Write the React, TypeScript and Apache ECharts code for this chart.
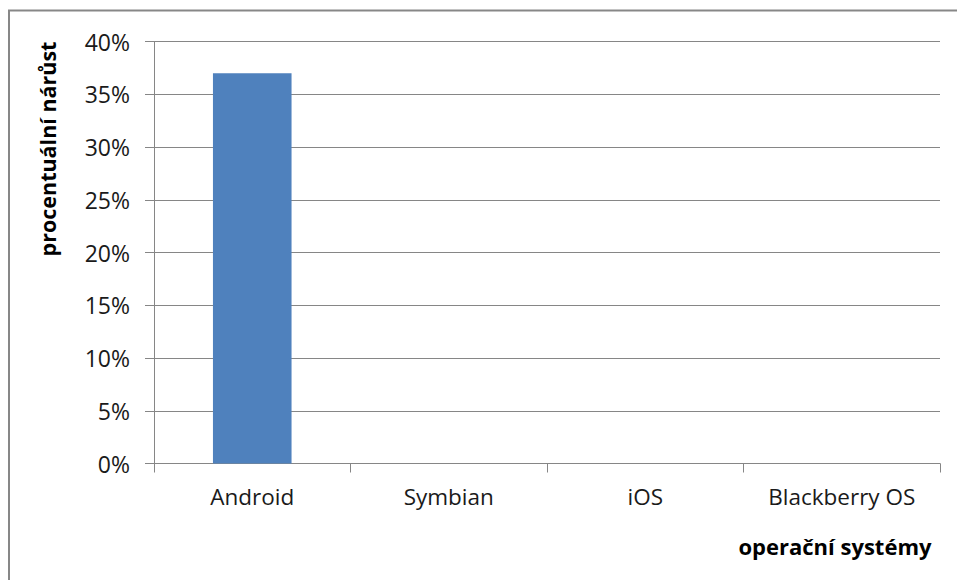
import React, { useEffect, useRef } from "react";
import * as echarts from "echarts";

const categories = ["Android", "Symbian", "iOS", "Blackberry OS"];
const growthValues = [37, 0, 0, 0];
const yTicks = { min: 0, max: 40, interval: 5 };
const yAxisTitle = "procentuální nárůst";
const xAxisTitle = "operační systémy";

const FONT = "'Open Sans', sans-serif";

export default function App() {
  const ref = useRef<HTMLDivElement>(null);

  useEffect(() => {
    if (!ref.current) return;
    const chart = echarts.init(ref.current, undefined, { renderer: "svg" });
    chart.setOption({
      animation: false,
      backgroundColor: "#ffffff",
      grid: { left: 154, right: 17, top: 41.5, bottom: 116.5, containLabel: false },
      xAxis: {
        type: "category",
        data: categories,
        axisLine: { show: true, lineStyle: { color: "#868686", width: 1 } },
        axisTick: { show: true, length: 9, lineStyle: { color: "#868686" } },
        axisLabel: { color: "#1a1a1a", fontFamily: FONT, fontSize: 22.5, margin: 21 },
      },
      yAxis: {
        type: "value",
        min: yTicks.min,
        max: yTicks.max,
        interval: yTicks.interval,
        axisLine: { show: true, lineStyle: { color: "#868686", width: 1 } },
        axisTick: { show: true, length: 9, lineStyle: { color: "#868686" } },
        splitLine: { show: true, lineStyle: { color: "#868686", width: 1 } },
        axisLabel: {
          color: "#1a1a1a",
          fontFamily: FONT,
          fontSize: 23,
          margin: 24,
          formatter: "{value}%",
        },
      },
      series: [
        {
          type: "bar",
          data: growthValues,
          barCategoryGap: "60%",
          itemStyle: { color: "#4F81BD" },
        },
      ],
      graphic: [
        {
          type: "rect",
          shape: { x: 9, y: 10.5, width: 2000, height: 2000 },
          style: { fill: "none", stroke: "#878787", lineWidth: 2 },
          silent: true,
        },
        {
          type: "text",
          x: 47,
          y: 149,
          rotation: Math.PI / 2,
          style: {
            text: yAxisTitle,
            fontFamily: FONT,
            fontWeight: "bold",
            fontSize: 21.5,
            fill: "#000000",
            align: "center",
            verticalAlign: "middle",
          },
        },
        {
          type: "text",
          x: 835,
          y: 546,
          style: {
            text: xAxisTitle,
            fontFamily: FONT,
            fontWeight: "bold",
            fontSize: 22,
            fill: "#000000",
            align: "center",
            verticalAlign: "middle",
          },
        },
      ],
    });
    return () => chart.dispose();
  }, []);

  return (
    <div
      style={{ position: "fixed", left: 0, top: 0, width: 957, height: 580, overflow: "hidden", background: "#fff" }}
    >
      <div ref={ref} style={{ width: 957, height: 580 }} />
    </div>
  );
}
